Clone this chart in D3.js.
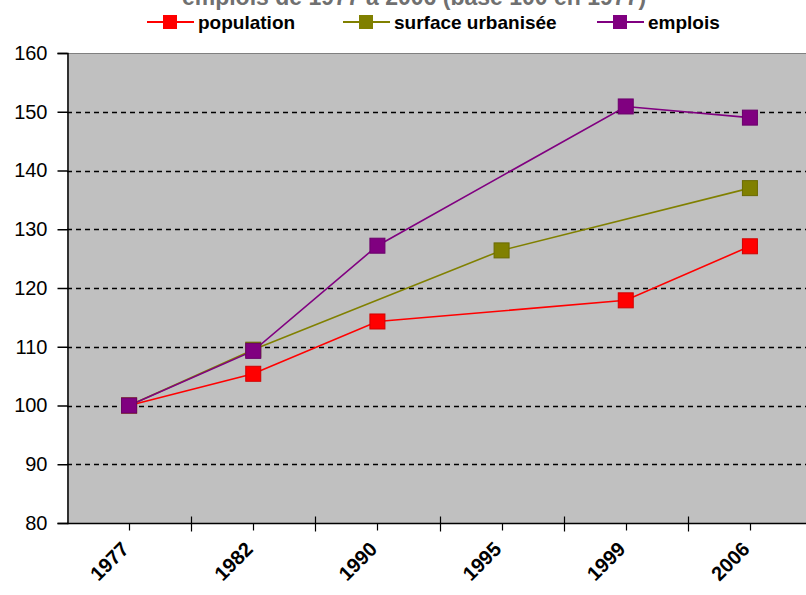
<!DOCTYPE html>
<html><head><meta charset="utf-8">
<script src="https://cdn.jsdelivr.net/npm/d3@7"></script>
<style>
html,body{margin:0;padding:0;background:#fff;}
svg{display:block;}
</style></head>
<body>
<svg id="c" width="806" height="595"></svg>
<script>
const years = ["1977","1982","1990","1995","1999","2006"];
const population = [100, 105.4, 114.3, null, 117.9, 127.1];
const surface = [100, 109.5, null, 126.4, null, 137.0];
const emplois = [100, 109.3, 127.2, null, 150.9, 149.0];
const yTicks = [80, 90, 100, 110, 120, 130, 140, 150, 160];
const seriesNames = ["population", "surface urbanisée", "emplois"];
const seriesColors = ["#ff0000", "#808000", "#800080"];
const seriesStroke = ["#d00000", "#6a6a00", "#6a006a"];
const titleText = "emplois de 1977 à 2006 (base 100 en 1977)";

const svg = d3.select("#c");
const L = 67, R = 812, T = 53, B = 523;
const x = d3.scaleBand().domain(years).range([L, R]).padding(0);
const y = d3.scaleLinear().domain([80, 160]).range([B, T]);

// plot area
svg.append("rect").attr("x", L).attr("y", T).attr("width", R - L).attr("height", B - T).attr("fill", "#c0c0c0");
svg.append("line").attr("x1", L).attr("x2", R).attr("y1", T + 0.5).attr("y2", T + 0.5).attr("stroke", "#808080").attr("stroke-width", 1);

// gridlines
svg.append("g").selectAll("line").data(yTicks.filter(d => d > 80 && d < 160)).join("line")
  .attr("x1", L).attr("x2", R)
  .attr("y1", d => Math.round(y(d)) + 0.5).attr("y2", d => Math.round(y(d)) + 0.5)
  .attr("stroke", "#000").attr("stroke-width", 1.6).attr("stroke-dasharray", "5,4");

// y axis
const yAxis = d3.axisLeft(y).tickValues(yTicks).tickSize(10).tickPadding(10).tickFormat(d3.format("d"));
const gy = svg.append("g").attr("transform", `translate(${L + 0.5},0)`).call(yAxis);
gy.select(".domain").attr("stroke", "#000").attr("stroke-width", 1.5);
gy.selectAll(".tick line").attr("stroke", "#000").attr("stroke-width", 1.5);
gy.selectAll("text").attr("font-family", "Liberation Sans, Arial, sans-serif").attr("font-size", 20).attr("fill", "#000");

// x axis: minor ticks at category centres, major ticks at boundaries
const gx = svg.append("g").attr("transform", `translate(0,${B + 0.5})`);
gx.append("line").attr("x1", L).attr("x2", R).attr("stroke", "#000").attr("stroke-width", 1.5);
const boundaries = years.slice(1).map(d => x(d));
gx.selectAll("line.maj").data(boundaries).join("line").attr("class", "maj")
  .attr("x1", d => Math.round(d) + 0.5).attr("x2", d => Math.round(d) + 0.5).attr("y1", -7).attr("y2", 8)
  .attr("stroke", "#000").attr("stroke-width", 1.2);
gx.selectAll("line.min").data(years).join("line").attr("class", "min")
  .attr("x1", d => Math.round(x(d) + x.bandwidth() / 2) + 0.5).attr("x2", d => Math.round(x(d) + x.bandwidth() / 2) + 0.5)
  .attr("y1", 0).attr("y2", 7).attr("stroke", "#000").attr("stroke-width", 1.2);
gx.selectAll("text").data(years).join("text")
  .attr("transform", d => `translate(${x(d) + x.bandwidth() / 2 - 4},${22}) rotate(-45)`)
  .attr("text-anchor", "end").attr("dy", "0.35em")
  .attr("font-family", "Liberation Sans, Arial, sans-serif").attr("font-weight", "bold").attr("font-size", 20)
  .text(d => d);

// series
const allSeries = [population, surface, emplois];
const line = d3.line().x(d => x(d.k) + x.bandwidth() / 2).y(d => y(d.v));
allSeries.forEach((vals, i) => {
  const pts = years.map((k, j) => ({k, v: vals[j]})).filter(d => d.v !== null);
  svg.append("path").datum(pts).attr("d", line).attr("fill", "none")
    .attr("stroke", seriesColors[i]).attr("stroke-width", 1.6);
});
allSeries.forEach((vals, i) => {
  const pts = years.map((k, j) => ({k, v: vals[j]})).filter(d => d.v !== null);
  svg.append("g").selectAll("rect").data(pts).join("rect")
    .attr("x", d => x(d.k) + x.bandwidth() / 2 - 7.5).attr("y", d => y(d.v) - 7.5)
    .attr("width", 15).attr("height", 15)
    .attr("fill", seriesColors[i]).attr("stroke", seriesStroke[i]).attr("stroke-width", 1);
});

// title (clipped at top, as in the reference)
svg.append("text").attr("x", 414).attr("y", 5).attr("text-anchor", "middle")
  .attr("font-family", "Liberation Sans, Arial, sans-serif").attr("font-weight", "bold").attr("font-size", 23)
  .attr("fill", "#707070").text(titleText);

// legend
const legX = [147, 343, 597];
const lg = svg.append("g");
seriesNames.forEach((n, i) => {
  const g = lg.append("g").attr("transform", `translate(${legX[i]},22)`);
  g.append("line").attr("x1", 0).attr("x2", 47).attr("stroke", seriesColors[i]).attr("stroke-width", 2);
  g.append("rect").attr("x", 16).attr("y", -7).attr("width", 14).attr("height", 14).attr("fill", seriesColors[i]);
  g.append("text").attr("x", 51).attr("dy", "0.35em")
    .attr("font-family", "Liberation Sans Narrow, Arial Narrow, Liberation Sans, sans-serif")
    .attr("font-weight", "bold").attr("font-size", 19).attr("fill", "#000").text(n);
});
</script>
</body></html>
